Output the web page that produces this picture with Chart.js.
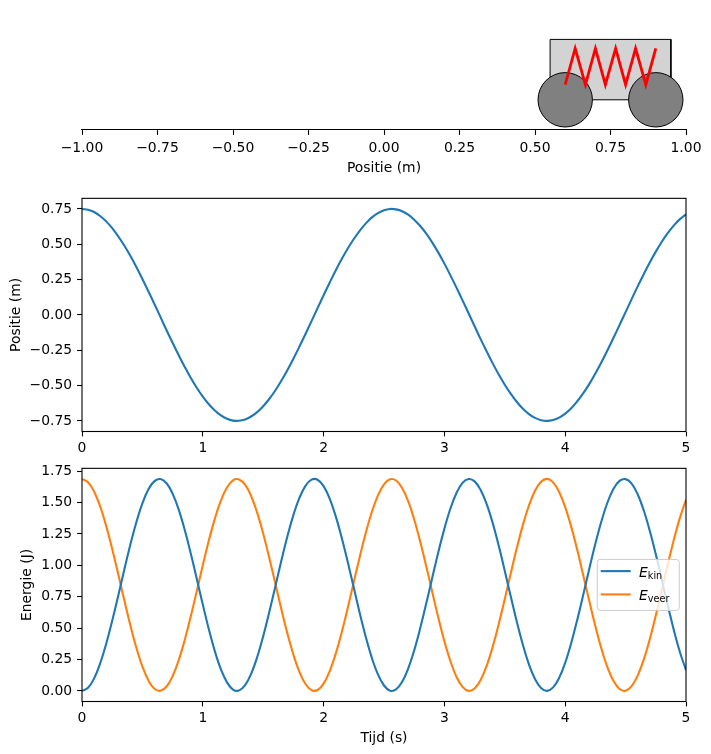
<!DOCTYPE html>
<html>
<head>
<meta charset="utf-8">
<title>Massa-veer systeem</title>
<script src="https://cdn.jsdelivr.net/npm/chart.js@4.4.1/dist/chart.umd.min.js"></script>
<style>
    body { margin: 0; background: #fff; }
    #wrap { position: relative; width: 711px; height: 754px; }
    canvas { position: absolute; left: 0; }
</style>
</head>
<body>
<div id="wrap">
    <canvas id="cartChart" width="711" height="185" style="top:0px"></canvas>
    <canvas id="posChart" width="711" height="270" style="top:185px"></canvas>
    <canvas id="energyChart" width="711" height="299" style="top:455px"></canvas>
</div>
<script>
// Karretje (bovenste paneel), in meters
const cartX = [0.55, 0.55, 0.95, 0.95, 0.55];
const cartY = [0, 0.2, 0.2, 0, 0];
const wheelX = [0.6, 0.9];
const wheelY = [0, 0];
const springX = [0.6, 0.633, 0.667, 0.7, 0.733, 0.767, 0.8, 0.833, 0.867, 0.9];
const springY = [0.05, 0.17, 0.05, 0.17, 0.05, 0.17, 0.05, 0.17, 0.05, 0.17];

// Tijdreeksen (s, m, J)
const tijd = [0, 0.05, 0.1, 0.15, 0.2, 0.25, 0.3, 0.35, 0.4, 0.45, 0.5, 0.55, 0.6, 0.65, 0.7, 0.75,
    0.8, 0.85, 0.9, 0.95, 1.0, 1.05, 1.1, 1.15, 1.2, 1.25, 1.3, 1.35, 1.4, 1.45, 1.5, 1.55, 1.6,
    1.65, 1.7, 1.75, 1.8, 1.85, 1.9, 1.95, 2.0, 2.05, 2.1, 2.15, 2.2, 2.25, 2.3, 2.35, 2.4, 2.45,
    2.5, 2.55, 2.6, 2.65, 2.7, 2.75, 2.8, 2.85, 2.9, 2.95, 3.0, 3.05, 3.1, 3.15, 3.2, 3.25, 3.3,
    3.35, 3.4, 3.45, 3.5, 3.55, 3.6, 3.65, 3.7, 3.75, 3.8, 3.85, 3.9, 3.95, 4.0, 4.05, 4.1, 4.15,
    4.2, 4.25, 4.3, 4.35, 4.4, 4.45, 4.5, 4.55, 4.6, 4.65, 4.7, 4.75, 4.8, 4.85, 4.9, 4.95, 5.0];
const positie = [0.750, 0.744, 0.728, 0.700, 0.662, 0.614, 0.556, 0.491, 0.418, 0.339, 0.254,
    0.166, 0.076, -0.016, -0.108, -0.197, -0.284, -0.367, -0.444, -0.515, -0.578, -0.632, -0.676,
    -0.711, -0.735, -0.748, -0.749, -0.740, -0.719, -0.688, -0.646, -0.595, -0.535, -0.466, -0.391,
    -0.310, -0.224, -0.135, -0.044, 0.048, 0.139, 0.228, 0.314, 0.395, 0.470, 0.537, 0.597, 0.648,
    0.690, 0.720, 0.741, 0.750, 0.747, 0.734, 0.709, 0.674, 0.629, 0.575, 0.512, 0.441, 0.363,
    0.280, 0.193, 0.103, 0.012, -0.080, -0.171, -0.258, -0.343, -0.422, -0.494, -0.559, -0.616,
    -0.664, -0.702, -0.729, -0.745, -0.750, -0.744, -0.727, -0.698, -0.660, -0.611, -0.554, -0.488,
    -0.414, -0.335, -0.250, -0.162, -0.071, 0.020, 0.112, 0.202, 0.288, 0.371, 0.448, 0.518, 0.580,
    0.634, 0.678, 0.712];
const eKin = [0.000, 0.025, 0.099, 0.218, 0.374, 0.558, 0.758, 0.965, 1.164, 1.343, 1.493, 1.605,
    1.670, 1.687, 1.653, 1.571, 1.445, 1.283, 1.096, 0.893, 0.687, 0.491, 0.315, 0.172, 0.068,
    0.011, 0.003, 0.046, 0.136, 0.268, 0.435, 0.627, 0.830, 1.036, 1.229, 1.400, 1.537, 1.633,
    1.682, 1.681, 1.630, 1.531, 1.392, 1.220, 1.026, 0.821, 0.617, 0.427, 0.261, 0.131, 0.043,
    0.002, 0.012, 0.072, 0.178, 0.323, 0.500, 0.697, 0.903, 1.105, 1.292, 1.452, 1.576, 1.656,
    1.687, 1.668, 1.600, 1.487, 1.336, 1.155, 0.955, 0.749, 0.548, 0.366, 0.211, 0.095, 0.023,
    0.000, 0.028, 0.104, 0.224, 0.382, 0.567, 0.768, 0.974, 1.173, 1.351, 1.500, 1.609, 1.672,
    1.686, 1.650, 1.566, 1.438, 1.275, 1.087, 0.883, 0.678, 0.482, 0.308, 0.166];
const eVeer = [1.688, 1.662, 1.588, 1.470, 1.314, 1.130, 0.929, 0.723, 0.524, 0.344, 0.194, 0.083,
    0.017, 0.001, 0.035, 0.117, 0.243, 0.404, 0.592, 0.794, 1.001, 1.197, 1.372, 1.516, 1.619,
    1.677, 1.684, 1.642, 1.552, 1.419, 1.252, 1.061, 0.857, 0.652, 0.458, 0.288, 0.151, 0.055,
    0.006, 0.007, 0.058, 0.156, 0.295, 0.467, 0.661, 0.867, 1.071, 1.261, 1.426, 1.557, 1.645,
    1.685, 1.675, 1.615, 1.510, 1.365, 1.188, 0.991, 0.785, 0.582, 0.396, 0.236, 0.112, 0.032,
    0.000, 0.019, 0.087, 0.200, 0.352, 0.533, 0.732, 0.939, 1.139, 1.322, 1.476, 1.593, 1.665,
    1.688, 1.660, 1.584, 1.463, 1.306, 1.121, 0.919, 0.713, 0.515, 0.336, 0.188, 0.079, 0.015,
    0.001, 0.038, 0.122, 0.249, 0.412, 0.601, 0.804, 1.010, 1.206, 1.380, 1.522];

// Tick labels
const cartTicks = [-1, -0.75, -0.5, -0.25, 0, 0.25, 0.5, 0.75, 1];
const posTicks = [-0.75, -0.5, -0.25, 0, 0.25, 0.5, 0.75];
const energyTicks = [0, 0.25, 0.5, 0.75, 1, 1.25, 1.5, 1.75];
const timeTicks = [0, 1, 2, 3, 4, 5];

const BLUE = '#1f77b4';
const ORANGE = '#ff7f0e';

Chart.defaults.font.family = "'DejaVu Sans', sans-serif";
Chart.defaults.font.size = 13.9;
Chart.defaults.color = '#000';

const toPoints = (xs, ys) => xs.map((x, i) => ({ x: x, y: ys[i] }));
const fmt2 = v => v.toFixed(2).replace('-', '\u2212');
const fixedTicks = list => axis => { axis.ticks = list.map(v => ({ value: v })); };

const tickGrid = {
    display: true,
    drawOnChartArea: false,
    drawTicks: true,
    tickLength: 4.9,
    tickWidth: 1.1,
    tickColor: '#000'
};

// Full box around the plot area (matplotlib spines)
const framePlugin = {
    id: 'frame',
    afterDatasetsDraw(chart) {
        const a = chart.chartArea;
        const ctx = chart.ctx;
        ctx.save();
        ctx.strokeStyle = '#000';
        ctx.lineWidth = 1.1;
        ctx.strokeRect(a.left, a.top, a.right - a.left, a.bottom - a.top);
        ctx.restore();
    }
};

// Legend with subscript labels
const legendPlugin = {
    id: 'subLegend',
    afterDraw(chart) {
        const a = chart.chartArea;
        const ctx = chart.ctx;
        const w = 82, h = 51;
        const x0 = a.right - 6.7 - w;
        const y0 = (a.top + a.bottom) / 2 - h / 2;
        ctx.save();
        ctx.beginPath();
        ctx.roundRect(x0, y0, w, h, 3);
        ctx.fillStyle = 'rgba(255,255,255,0.8)';
        ctx.fill();
        ctx.strokeStyle = '#cccccc';
        ctx.lineWidth = 1;
        ctx.stroke();
        chart.data.datasets.forEach((ds, i) => {
            const y = y0 + 11.7 + i * 23.3;
            ctx.beginPath();
            ctx.moveTo(x0 + 3.4, y);
            ctx.lineTo(x0 + 33.4, y);
            ctx.strokeStyle = ds.borderColor;
            ctx.lineWidth = 2.1;
            ctx.stroke();
            const [main, sub] = ds.label.split('_');
            ctx.fillStyle = '#000';
            ctx.textBaseline = 'alphabetic';
            ctx.textAlign = 'left';
            ctx.font = "italic 13.9px 'DejaVu Sans'";
            ctx.fillText(main, x0 + 41.7, y + 6);
            const mw = ctx.measureText(main).width;
            ctx.font = "9.7px 'DejaVu Sans'";
            ctx.fillText(sub, x0 + 41.7 + mw, y + 7.6);
        });
        ctx.restore();
    }
};

const curve = (label, xs, ys, color) => ({
    label: label,
    data: toPoints(xs, ys),
    borderColor: color,
    borderWidth: 2.1,
    pointRadius: 0,
    tension: 0.4
});

// Top panel: cart with spring
new Chart(document.getElementById('cartChart'), {
    type: 'line',
    data: {
        datasets: [{
            label: 'veer',
            data: toPoints(springX, springY),
            borderColor: '#ff0000',
            borderWidth: 2.8,
            pointRadius: 0,
            fill: false,
            order: 0
        }, {
            label: 'wielen',
            data: toPoints(wheelX, wheelY),
            showLine: false,
            pointRadius: 27.2,
            pointBackgroundColor: '#808080',
            pointBorderColor: '#000',
            pointBorderWidth: 1,
            order: 1
        }, {
            label: 'kar',
            data: toPoints(cartX, cartY),
            borderColor: '#000',
            borderWidth: 1,
            backgroundColor: '#d3d3d3',
            fill: 'shape',
            pointRadius: 0,
            order: 2
        }]
    },
    options: {
        responsive: false,
        animation: false,
        events: [],
        layout: { autoPadding: false, padding: { left: 82, right: 25, top: 9.2, bottom: 0 } },
        plugins: { legend: { display: false }, tooltip: { enabled: false } },
        scales: {
            x: {
                type: 'linear',
                min: -1,
                max: 1,
                afterBuildTicks: fixedTicks(cartTicks),
                afterFit: s => { s.height = 55; s.paddingLeft = 0; s.paddingRight = 0; },
                ticks: { padding: 4.9, maxRotation: 0, callback: v => fmt2(v) },
                grid: tickGrid,
                border: { display: true, color: '#000', width: 1.1 },
                title: { display: true, text: 'Positie (m)', padding: { top: 0, bottom: 8.1 } }
            },
            y: {
                type: 'linear',
                display: false,
                min: -0.1,
                max: 0.3
            }
        }
    }
});

// Middle panel: position against time
new Chart(document.getElementById('posChart'), {
    type: 'line',
    data: { datasets: [curve('positie', tijd, positie, BLUE)] },
    options: {
        responsive: false,
        animation: false,
        events: [],
        layout: { autoPadding: false, padding: { left: 0, right: 25, top: 11, bottom: 0 } },
        plugins: { legend: { display: false }, tooltip: { enabled: false } },
        scales: {
            x: {
                type: 'linear',
                min: 0,
                max: 5,
                afterBuildTicks: fixedTicks(timeTicks),
                afterFit: s => { s.height = 23.5; s.paddingLeft = 0; s.paddingRight = 0; },
                ticks: { padding: 3.6, maxRotation: 0 },
                grid: tickGrid,
                border: { display: false }
            },
            y: {
                type: 'linear',
                min: -0.825,
                max: 0.825,
                afterBuildTicks: fixedTicks(posTicks),
                afterFit: s => { s.width = 82; },
                ticks: { padding: 5, callback: v => fmt2(v) },
                grid: tickGrid,
                border: { display: false },
                title: { display: true, text: 'Positie (m)', padding: { top: 8.2, bottom: 0 } }
            }
        }
    },
    plugins: [framePlugin]
});

// Bottom panel: energies against time
new Chart(document.getElementById('energyChart'), {
    type: 'line',
    data: {
        datasets: [
            curve('E_kin', tijd, eKin, BLUE),
            curve('E_veer', tijd, eVeer, ORANGE)
        ]
    },
    options: {
        responsive: false,
        animation: false,
        events: [],
        layout: { autoPadding: false, padding: { left: 0, right: 25, top: 11.5, bottom: 0 } },
        plugins: { legend: { display: false }, tooltip: { enabled: false } },
        scales: {
            x: {
                type: 'linear',
                min: 0,
                max: 5,
                afterBuildTicks: fixedTicks(timeTicks),
                afterFit: s => { s.height = 52.5; s.paddingLeft = 0; s.paddingRight = 0; },
                ticks: { padding: 3.6, maxRotation: 0 },
                grid: tickGrid,
                border: { display: false },
                title: { display: true, text: 'Tijd (s)', padding: { top: 0, bottom: 7.4 } }
            },
            y: {
                type: 'linear',
                min: -0.0844,
                max: 1.772,
                afterBuildTicks: fixedTicks(energyTicks),
                afterFit: s => { s.width = 82; },
                ticks: { padding: 5, callback: v => fmt2(v) },
                grid: tickGrid,
                border: { display: false },
                title: { display: true, text: 'Energie (J)', padding: { top: 19.2, bottom: 0 } }
            }
        }
    },
    plugins: [framePlugin, legendPlugin]
});
</script>
</body>
</html>
